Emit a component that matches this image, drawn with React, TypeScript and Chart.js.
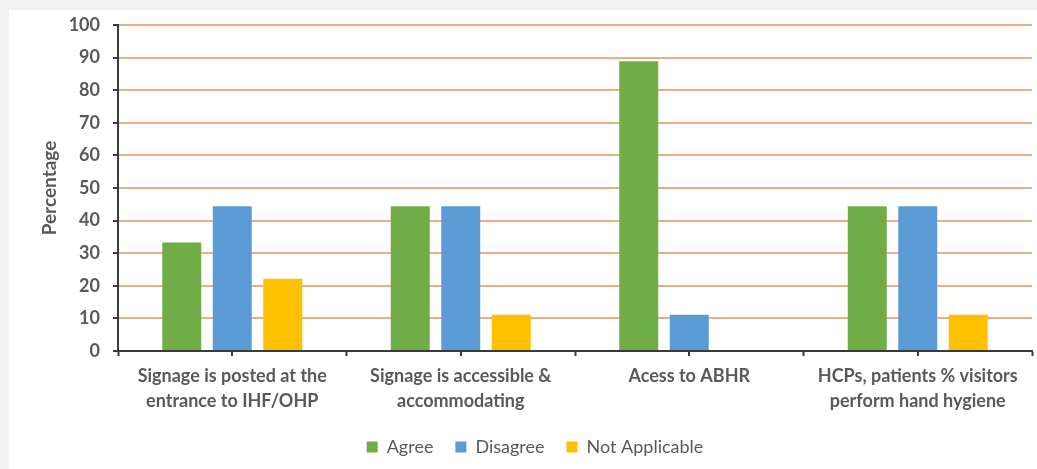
import React, { useEffect, useRef } from "react";
import { Chart, registerables } from "chart.js";

Chart.register(...registerables);

// Survey items (category axis), each split over two lines
const categories: string[][] = [
  ["Signage is posted at the", "entrance to IHF/OHP"],
  ["Signage is accessible &", "accommodating"],
  ["Acess to ABHR"],
  ["HCPs, patients % visitors", "perform hand hygiene"],
];

// Percentages per response
const agree = [33.3, 44.4, 88.9, 44.4];
const disagree = [44.4, 44.4, 11.1, 44.4];
const notApplicable = [22.2, 11.1, 0, 11.1];

const yTicks = [0, 10, 20, 30, 40, 50, 60, 70, 80, 90, 100];

const FONT = "Lato, 'Open Sans', sans-serif";
const TEXT = "#595959";
const AXIS = "#3a3a3a";
const GRID = "#eeab84";

// Extra tick marks under the category centres, as in the source spreadsheet style
const midTicks = {
  id: "midTicks",
  afterDraw(chart: any) {
    const x = chart.scales.x;
    const ctx = chart.ctx;
    const bottom = chart.chartArea.bottom;
    ctx.save();
    ctx.strokeStyle = AXIS;
    ctx.lineWidth = 2;
    x.ticks.forEach((_t: any, i: number) => {
      const px = Math.round(x.getPixelForValue(i));
      ctx.beginPath();
      ctx.moveTo(px, bottom);
      ctx.lineTo(px, bottom + 5);
      ctx.stroke();
    });
    ctx.restore();
  },
};

export default function App() {
  const ref = useRef<HTMLCanvasElement | null>(null);

  useEffect(() => {
    if (!ref.current) return;
    const chart = new Chart(ref.current, {
      type: "bar",
      data: {
        labels: categories,
        datasets: [
          { label: "Agree", data: agree, backgroundColor: "#70ad47" },
          { label: "Disagree", data: disagree, backgroundColor: "#5b9bd5" },
          { label: "Not Applicable", data: notApplicable, backgroundColor: "#ffc000" },
        ],
      },
      options: {
        responsive: false,
        animation: false,
        devicePixelRatio: 1,
        datasets: {
          bar: { categoryPercentage: 0.663, barPercentage: 0.772 },
        },
        layout: { padding: { top: 15, left: 29, right: 5, bottom: 3 } },
        plugins: {
          tooltip: { enabled: false },
          legend: {
            position: "bottom",
            labels: {
              boxWidth: 11,
              boxHeight: 11,
              padding: 22,
              color: TEXT,
              font: { family: FONT, size: 18 },
            },
          },
        },
        scales: {
          x: {
            afterFit(s: any) {
              s.height = 65;
            },
            border: { color: AXIS, width: 2 },
            grid: {
              offset: true,
              drawOnChartArea: false,
              drawTicks: true,
              tickLength: 5,
              tickColor: AXIS,
              tickWidth: 2,
            },
            ticks: {
              color: TEXT,
              padding: 8,
              maxRotation: 0,
              autoSkip: false,
              font: { family: FONT, size: 18, weight: "bold", lineHeight: 25 / 18 },
            },
          },
          y: {
            min: 0,
            max: 100,
            afterFit(s: any) {
              s.width = 80;
              // keep only half a label of room above and below the plot
              s.paddingTop = 10;
              s.paddingBottom = 10;
            },
            afterBuildTicks(s: any) {
              s.ticks = yTicks.map((v) => ({ value: v }));
            },
            border: { color: AXIS, width: 2 },
            grid: {
              color: GRID,
              lineWidth: 2,
              tickColor: AXIS,
              tickWidth: 2,
              tickLength: 5,
            },
            ticks: {
              color: TEXT,
              padding: 13,
              font: { family: FONT, size: 18, weight: "bold" },
            },
            title: {
              display: true,
              text: "Percentage",
              color: TEXT,
              padding: { top: 0, bottom: 0 },
              font: { family: FONT, size: 19, weight: "bold" },
            },
          },
        },
      },
      plugins: [midTicks],
    });
    return () => chart.destroy();
  }, []);

  return (
    <div style={{ position: "fixed", inset: 0, background: "#f0f1f3" }}>
      <div
        style={{
          position: "absolute",
          left: 9,
          top: 10,
          width: 1028,
          height: 459,
          background: "#ffffff",
        }}
      >
        <canvas ref={ref} width={1028} height={459} style={{ display: "block" }} />
      </div>
    </div>
  );
}
